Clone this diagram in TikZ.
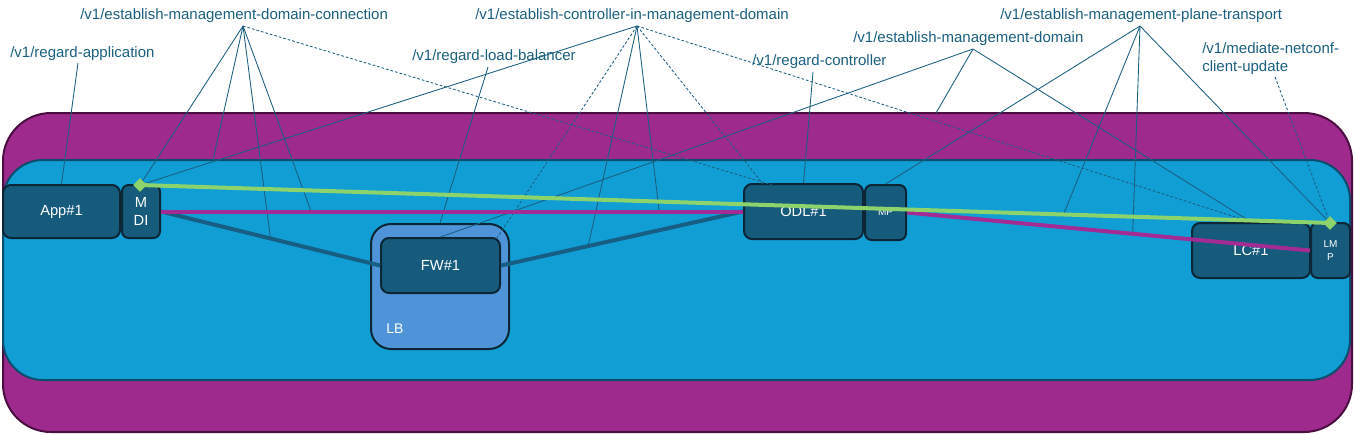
\documentclass[tikz,border=0pt]{standalone}
\usepackage{fontspec}
\setmainfont{Liberation Sans}
\usetikzlibrary{shapes.geometric}
\definecolor{labc}{HTML}{1B5F80}
\definecolor{boxf}{HTML}{165B7C}
\definecolor{boxd}{HTML}{0C2635}
\definecolor{inblue}{HTML}{119ED5}
\definecolor{inbluedk}{HTML}{0B4D6B}
\definecolor{outpur}{HTML}{9D2A8C}
\definecolor{outpurd}{HTML}{4A0E40}
\definecolor{lbf}{HTML}{4F94D8}
\definecolor{grn}{HTML}{8DD36C}
\definecolor{dkline}{HTML}{175E84}
\definecolor{purline}{HTML}{A22B94}
\begin{document}
\begin{tikzpicture}[x=0.75pt,y=-0.75pt,
  devbox/.style={draw=boxd, fill=boxf, line width=1.5pt, rounded corners=6pt, text=white,
    font=\fontsize{11}{13.5}\selectfont, inner sep=0pt, align=center},
  smallbox/.style={devbox, rounded corners=5pt, font=\fontsize{7.5}{9.75}\selectfont},
  lab/.style={text=labc, font=\fontsize{11.25}{13.5}\selectfont, inner sep=0pt, anchor=west},
  callout/.style={draw=labc, line width=0.65pt},
  dcallout/.style={callout, dash pattern=on 2pt off 1.5pt},
  gdiam/.style={diamond, fill=grn, inner sep=0pt, minimum size=10pt},
  thickline/.style={line width=3pt},
]
\useasboundingbox (0,0) rectangle (1355,435);

% frames
\path[fill=outpur, draw=outpurd, line width=1.5pt, rounded corners=36pt] (3,113) rectangle (1352,432);
\path[fill=inblue, draw=inbluedk, line width=1.5pt, rounded corners=30pt] (3,160) rectangle (1350,380);

% LB container
\node[draw=boxd, fill=lbf, line width=1.5pt, rounded corners=15pt, minimum width=103.5pt,
  minimum height=93.75pt, inner sep=0pt] (lb) at (440,286.5) {};
\node[text=white, font=\fontsize{10.5}{12}\selectfont, inner sep=0pt, anchor=west] (lbt) at (386,329) {LB};

% boxes
\node[devbox, minimum width=87.75pt, minimum height=39.75pt] (app) at (61.5,211.5) {App\#1};
\node[devbox, rounded corners=5pt, minimum width=28.5pt, minimum height=39.75pt] (mdi) at (141,211.5) {M\\DI};
\node[devbox, minimum width=89.25pt, minimum height=41.25pt] (fw) at (440.5,265.5) {FW\#1};
\node[devbox, minimum width=89.25pt, minimum height=41.25pt] (odl) at (803.5,211.5) {ODL\#1};
\node[smallbox, minimum width=30.75pt, minimum height=41.25pt] (mp) at (885.5,212.5) {MP};
\node[devbox, minimum width=88.5pt, minimum height=41.25pt] (lc) at (1251,250.5) {LC\#1};
\node[smallbox, minimum width=29.25pt, minimum height=41.25pt] (lmp) at (1330.5,250.5) {LM\\P};

% diamonds
\node[gdiam] (gd1) at (140,185) {};
\node[gdiam] (gd2) at (1330,223) {};

% labels
\node[lab] (l1) at (80,16) {/v1/establish-management-domain-connection};
\node[lab] (l2) at (475,16) {/v1/establish-controller-in-management-domain};
\node[lab] (l3) at (412,57) {/v1/regard-load-balancer};
\node[lab] (l4) at (752,62) {/v1/regard-controller};
\node[lab] (l5) at (10,54) {/v1/regard-application};
\node[lab] (l6) at (853,39) {/v1/establish-management-domain};
\node[lab] (l7) at (1000,16) {/v1/establish-management-plane-transport};
\node[lab, align=left] (l8) at (1202,59) {/v1/mediate-netconf-\\client-update};

% callout anchors
\coordinate (a1) at (243,26);
\coordinate (a2) at (637,26);
\coordinate (a3) at (488,67);
\coordinate (a4) at (813,72);
\coordinate (a5) at (78,63);
\coordinate (a6) at (973,49);
\coordinate (a7) at (1140,26);
\coordinate (a8) at (1275,77);

% points on frames / boxes
\coordinate (e1) at (213,160);
\coordinate (e2) at (936,113);
\coordinate (o1) at (772,185);
\coordinate (o2) at (763,184);
\coordinate (fwne) at (497,238);

% points on connectors
\path (mdi.east) -- coordinate[pos=0.5] (p1) (fw.west);
\path (fw.east) -- coordinate[pos=0.36] (p2) (odl.west);
\path (mdi.east) -- coordinate[pos=0.258] (p3) coordinate[pos=0.856] (p4) (odl.west);
\path (gd1.center) -- coordinate[pos=0.776] (p5) (gd2.center);
\path (mp.east) -- coordinate[pos=0.56] (p6) (lmp.west);

% callouts
\draw[callout] (a1) -- (gd1.center);
\draw[callout] (a1) -- (e1);
\draw[callout] (a1) -- (p1);
\draw[callout] (a1) -- (p3);
\draw[dcallout] (a1) -- (o1);
\draw[callout] (a2) -- (gd1.center);
\draw[callout] (a2) -- (p2);
\draw[callout] (a2) -- (p4);
\draw[dcallout] (a2) -- (fwne);
\draw[dcallout] (a2) -- (o2);
\draw[dcallout] (a2) -- (lc.north);
\draw[callout] (a3) -- (lb.north);
\draw[callout] (a4) -- (odl.north);
\draw[callout] (a5) -- (app.north);
\draw[callout] (a6) -- (fw.north);
\draw[callout] (a6) -- (e2);
\draw[callout] (a6) -- (lc.north);
\draw[callout] (a7) -- (mp.north);
\draw[callout] (a7) -- (p5);
\draw[callout] (a7) -- (p6);
\draw[callout] (a7) -- (gd2.center);
\draw[dcallout] (a8) -- (gd2.center);

% connectors
\draw[thickline, dkline] (mdi.east) -- (fw.west);
\draw[thickline, dkline] (fw.east) -- (odl.west);
\draw[thickline, purline] (mdi.east) -- (odl.west);
\draw[thickline, purline] (mp.east) -- (lmp.west);
\draw[thickline, grn] (gd1.center) -- (gd2.center);
\node[gdiam] at (gd1.center) {};
\node[gdiam] at (gd2.center) {};
\end{tikzpicture}
\end{document}
